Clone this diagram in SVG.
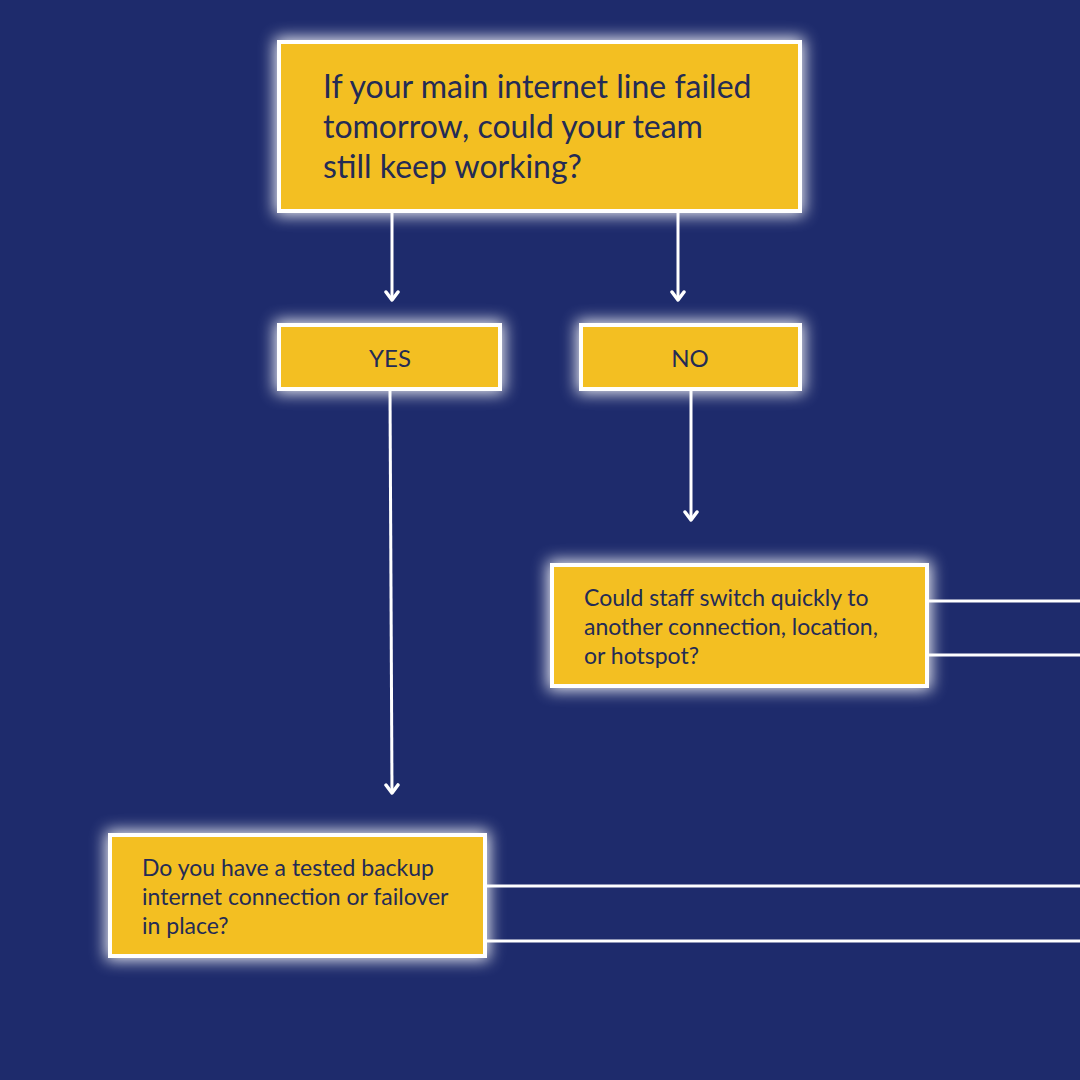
<svg xmlns="http://www.w3.org/2000/svg" width="1080" height="1080" viewBox="0 0 1080 1080">
<defs>
<filter id="glow" x="-25%" y="-40%" width="150%" height="180%">
<feGaussianBlur stdDeviation="8"/>
</filter>
<marker id="arr" viewBox="0 0 12 16" refX="10" refY="8" markerWidth="12" markerHeight="16" markerUnits="userSpaceOnUse" orient="auto">
<path d="M2 2 L10 8 L2 14" fill="none" stroke="#ffffff" stroke-width="3.5" stroke-linecap="round" stroke-linejoin="round"/>
</marker>
</defs>
<style>
.halo{fill:#ffffff;opacity:0.95;filter:url(#glow)}
.box{fill:#f3bf22;stroke:#ffffff;stroke-width:4}
.t{font-family:Lato,"Open Sans",sans-serif;fill:#242b55}
.ln{stroke:#ffffff;stroke-width:3;fill:none}
</style>
<rect width="1080" height="1080" fill="#1e2b6c"/>
<g id="connectors">
<line class="ln" x1="392" y1="213" x2="392" y2="300" marker-end="url(#arr)"/>
<line class="ln" x1="678" y1="213" x2="678" y2="300" marker-end="url(#arr)"/>
<line class="ln" x1="390" y1="391" x2="392" y2="793" marker-end="url(#arr)"/>
<line class="ln" x1="691" y1="391" x2="691" y2="520" marker-end="url(#arr)"/>
<line class="ln" x1="929" y1="601" x2="1080" y2="601"/>
<line class="ln" x1="929" y1="655" x2="1080" y2="655"/>
<line class="ln" x1="487" y1="886" x2="1080" y2="886"/>
<line class="ln" x1="487" y1="941" x2="1080" y2="941"/>
</g>
<g id="q1">
<rect class="halo" x="275" y="38" width="529" height="177"/>
<rect class="box" x="279" y="42" width="521" height="169"/>
<text class="t" font-size="32"><tspan x="323" y="98">If your main internet line failed</tspan><tspan x="323" y="138">tomorrow, could your team</tspan><tspan x="323" y="178">still keep working?</tspan></text>
</g>
<g id="yes">
<rect class="halo" x="275" y="321" width="229" height="72"/>
<rect class="box" x="279" y="325" width="221" height="64"/>
<text class="t" font-size="24" x="390" y="367" text-anchor="middle">YES</text>
</g>
<g id="no">
<rect class="halo" x="577" y="321" width="227" height="72"/>
<rect class="box" x="581" y="325" width="219" height="64"/>
<text class="t" font-size="24" x="690" y="367" text-anchor="middle">NO</text>
</g>
<g id="q2">
<rect class="halo" x="548" y="561" width="383" height="129"/>
<rect class="box" x="552" y="565" width="375" height="121"/>
<text class="t" font-size="23"><tspan x="584" y="606">Could staff switch quickly to</tspan><tspan x="584" y="635">another connection, location,</tspan><tspan x="584" y="664">or hotspot?</tspan></text>
</g>
<g id="q3">
<rect class="halo" x="106" y="831" width="383" height="129"/>
<rect class="box" x="110" y="835" width="375" height="121"/>
<text class="t" font-size="23"><tspan x="142" y="876">Do you have a tested backup</tspan><tspan x="142" y="905">internet connection or failover</tspan><tspan x="142" y="934">in place?</tspan></text>
</g>
</svg>
